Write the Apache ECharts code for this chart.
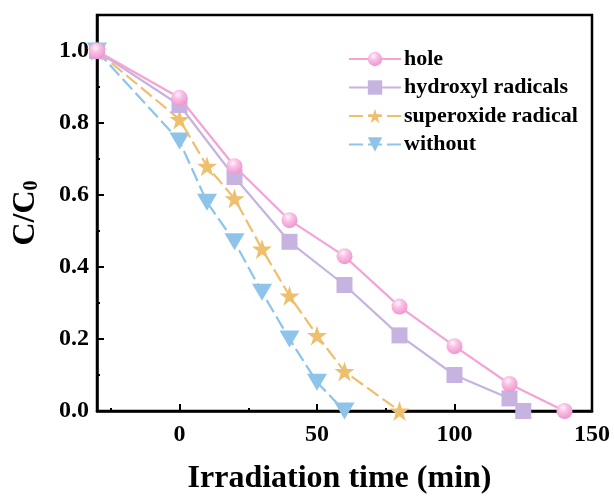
<!DOCTYPE html>
<html>
<head>
<meta charset="utf-8">
<script src="https://cdn.jsdelivr.net/npm/echarts@6/dist/echarts.min.js"></script>
<style>
html, body { margin: 0; padding: 0; background: #fff; }
#main { width: 614px; height: 498px; }
</style>
</head>
<body>
<div id="main"></div>
<script>
// data
var holeData = [[-30, 1.0], [0, 0.87], [20, 0.68], [40, 0.53], [60, 0.43], [80, 0.29], [100, 0.18], [120, 0.075], [140, 0.0]];
var hydroxylData = [[-30, 1.0], [0, 0.85], [20, 0.65], [40, 0.47], [60, 0.35], [80, 0.21], [100, 0.10], [120, 0.035], [125, 0.0]];
var superoxideData = [[-30, 1.0], [0, 0.81], [10, 0.68], [20, 0.59], [30, 0.45], [40, 0.32], [50, 0.21], [60, 0.11], [80, 0.0]];
var withoutData = [[-30, 1.0], [0, 0.75], [10, 0.58], [20, 0.47], [30, 0.33], [40, 0.20], [50, 0.08], [60, 0.0]];

var xTicks = [0, 50, 100, 150];
var xMinorTicks = [-25, 25, 75, 125];

var serif = '"Liberation Serif", "Times New Roman", serif';

var myChart = echarts.init(document.getElementById('main'));

var pink = '#f4a3d6';
var purple = '#c7b3e0';
var orange = '#eec06e';
var blue = '#8ec4ea';

option = {
    animation: false,
    backgroundColor: '#fff',
    grid: {
        left: 97,
        top: 15,
        width: 495,
        height: 396,
        outerBoundsMode: 'none',
        show: true,
        borderColor: '#000',
        borderWidth: 2.5
    },
    legend: {
        orient: 'vertical',
        left: 343,
        top: 43,
        itemWidth: 52,
        itemHeight: 18,
        itemGap: 6.5,
        textStyle: {
            fontFamily: serif,
            fontWeight: 'bold',
            fontSize: 22,
            color: '#000',
            padding: [0, 0, 0, -2]
        },
        data: ['hole', 'hydroxyl radicals', 'superoxide radical', 'without']
    },
    xAxis: [
        {
            type: 'value',
            min: -30,
            max: 150,
            name: 'Irradiation time (min)',
            nameLocation: 'middle',
            nameGap: 52,
            nameTextStyle: {
                fontFamily: serif,
                fontWeight: 'bold',
                fontSize: 32,
                color: '#000',
                padding: [0, 10, 0, 0]
            },
            axisLine: { onZero: false, lineStyle: { color: '#000', width: 2.5 } },
            axisTick: {
                inside: true,
                length: 7,
                customValues: xTicks,
                lineStyle: { color: '#000', width: 2 }
            },
            axisLabel: {
                customValues: xTicks,
                margin: 12,
                fontFamily: serif,
                fontWeight: 'bold',
                fontSize: 24,
                color: '#000'
            },
            splitLine: { show: false }
        },
        {
            type: 'value',
            min: -30,
            max: 150,
            position: 'bottom',
            axisLine: { show: false, onZero: false },
            axisTick: {
                inside: true,
                length: 3,
                customValues: xMinorTicks,
                lineStyle: { color: '#000', width: 2 }
            },
            axisLabel: { show: false },
            splitLine: { show: false }
        }
    ],
    yAxis: {
        type: 'value',
        min: 0,
        max: 1.1,
        interval: 0.2,
        name: '{a|C/C}{b|0}',
        nameLocation: 'middle',
        nameGap: 55,
        nameTextStyle: {
            rich: {
                a: { fontFamily: serif, fontWeight: 'bold', fontSize: 32, color: '#000' },
                b: { fontFamily: serif, fontWeight: 'bold', fontSize: 20, color: '#000', verticalAlign: 'bottom' }
            }
        },
        axisLine: { onZero: false, lineStyle: { color: '#000', width: 2.5 } },
        axisTick: { inside: true, length: 7, lineStyle: { color: '#000', width: 2 } },
        minorTick: { show: true, splitNumber: 2, length: 3, lineStyle: { color: '#000', width: 2 } },
        axisLabel: {
            margin: 8,
            showMaxLabel: false,
            formatter: function (v) { return v.toFixed(1); },
            fontFamily: serif,
            fontWeight: 'bold',
            fontSize: 24,
            color: '#000'
        },
        splitLine: { show: false }
    },
    series: [
        {
            name: 'hole',
            type: 'line',
            data: holeData,
            symbol: 'circle',
            symbolSize: 16,
            z: 5,
            itemStyle: {
                color: {
                    type: 'radial', x: 0.4, y: 0.3, r: 0.75,
                    colorStops: [
                        { offset: 0, color: '#fff4fb' },
                        { offset: 0.35, color: '#f8c3e6' },
                        { offset: 1, color: '#f08fcd' }
                    ]
                }
            },
            lineStyle: { color: pink, width: 2.2 }
        },
        {
            name: 'hydroxyl radicals',
            type: 'line',
            data: hydroxylData,
            symbol: 'rect',
            symbolSize: 16,
            z: 4,
            itemStyle: { color: purple },
            lineStyle: { color: purple, width: 2.2 }
        },
        {
            name: 'superoxide radical',
            type: 'line',
            data: superoxideData,
            symbol: 'path://M50,0 L61.8,35.1 L98.9,35.1 L68.9,56.9 L80.3,92.1 L50,70.3 L19.7,92.1 L31.1,56.9 L1.1,35.1 L38.2,35.1 Z',
            symbolSize: 20,
            z: 3,
            itemStyle: { color: orange },
            lineStyle: { color: orange, width: 2.2, type: [14, 5] }
        },
        {
            name: 'without',
            type: 'line',
            data: withoutData,
            symbol: 'triangle',
            symbolRotate: 180,
            symbolSize: [20, 17],
            z: 2,
            itemStyle: { color: blue },
            lineStyle: { color: blue, width: 2.2, type: [14, 5] }
        }
    ]
};
myChart.setOption(option);
</script>
</body>
</html>
